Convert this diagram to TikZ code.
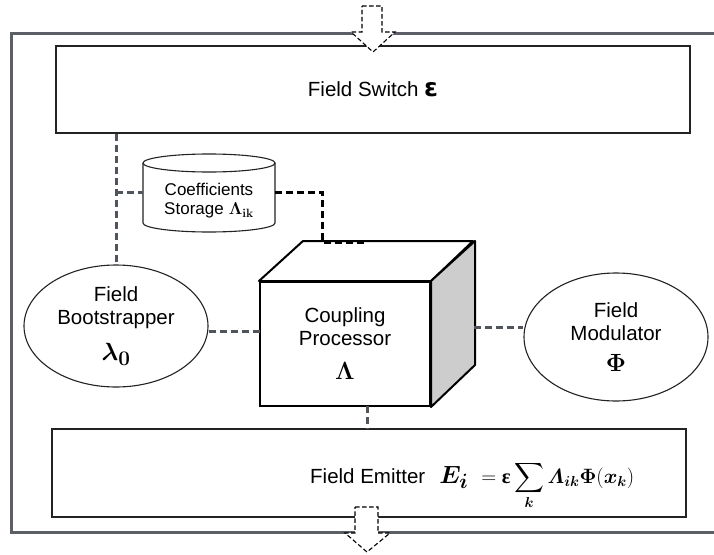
\documentclass[tikz,border=0pt]{standalone}
\usepackage{amsmath}
\usepackage{bm}
\usepackage[no-math]{fontspec}
\setmainfont{Liberation Sans}
\newfontfamily\dejasans{DejaVu Sans}
\newfontfamily\libserif{Liberation Serif}
\usetikzlibrary{shapes.geometric}
\definecolor{framegray}{RGB}{92,96,102}
\definecolor{conngray}{RGB}{80,85,92}
\definecolor{boxdark}{RGB}{35,35,35}
\definecolor{facegray}{RGB}{205,205,205}
\tikzset{
  frameline/.style={draw=framegray, line width=2.2pt},
  blockbox/.style={draw=boxdark, line width=1.7pt, fill=white, inner sep=0pt, rectangle},
  ellbox/.style={ellipse, draw=boxdark, line width=1.1pt, fill=white, inner sep=0pt, align=center,
     font=\fontsize{20.5}{23}\selectfont},
  cubeline/.style={draw=black, line width=2pt, line join=round},
  cylline/.style={draw=boxdark, line width=1.1pt, fill=white},
  conn/.style={draw=conngray, line width=3pt, dash pattern=on 7pt off 4pt},
  connb/.style={draw=black, line width=3pt, dash pattern=on 7pt off 4pt},
  lbl/.style={font=\fontsize{20.5}{23}\selectfont, align=center, inner sep=0pt},
  flowarrow/.style={draw=black, line width=1.1pt, dash pattern=on 4.5pt off 2.5pt, fill=white, line join=miter},
}
\begin{document}
\begin{tikzpicture}[x=1pt,y=-1pt]
\useasboundingbox (0,0) rectangle (714,554);
\fill[white] (0,0) rectangle (714,554);

% outer frame (open on the right)
\draw[frameline] (714,33.5) -- (11.5,33.5) -- (11.5,532.5) -- (714,532.5);

% Field Switch
\node[blockbox, lbl, minimum width=634pt, minimum height=87pt] (switch) at (373,89.5)
  {Field Switch {\dejasans\bfseries\fontsize{25}{25}\selectfont ε}};

% Field Emitter
\node[blockbox, minimum width=634pt, minimum height=88pt] (emitter) at (369,473) {};
\node[lbl, anchor=base west] (emittext) at (310,483)
  {Field Emitter\hspace{14pt}{\fontsize{28}{28}\selectfont$\boldsymbol{E_{i}}$}\hspace{13pt}{\fontsize{20.5}{20.5}\selectfont$\displaystyle =\text{\libserif\bfseries ε}\sum_{\boldsymbol{k}}\boldsymbol{\varLambda}_{\boldsymbol{ik}}\boldsymbol{\Phi}(\boldsymbol{x}_{\boldsymbol{k}})$}};

% Field Bootstrapper
\node[ellbox, minimum width=184pt, minimum height=122pt] (boot) at (116,326)
  {Field\\Bootstrapper\\[13pt]{\fontsize{28}{28}\selectfont$\boldsymbol{\lambda}_{\mathbf{0}}$}};

% Field Modulator
\node[ellbox, minimum width=184pt, minimum height=128pt] (mod) at (616,337)
  {Field\\Modulator\\[8pt]{\fontsize{23}{23}\selectfont$\boldsymbol{\Phi}$}};

% Coefficients Storage (cylinder)
\draw[cylline] (143,163) -- (143,223) arc[start angle=180, end angle=0, x radius=66, y radius=9] -- (275,163);
\draw[cylline] (209,163) ellipse [x radius=66, y radius=9];
\node[lbl, font=\fontsize{17}{19}\selectfont] (cyl) at (209,201)
  {Coefficients\\Storage\hspace{5pt}{\fontsize{17}{17}\selectfont$\mathbf{\Lambda}_{\mathbf{ik}}$}};
\coordinate (cylW) at (143,192);
\coordinate (cylE) at (275,192);

% Coupling Processor (cube)
\node[draw=black, line width=2pt, fill=white, minimum width=170pt, minimum height=124pt,
      inner sep=0pt, lbl] (cube) at (345,344)
  {Coupling\\Processor\\[11pt]{\fontsize{24}{24}\selectfont$\boldsymbol{\Lambda}$}};
\draw[cubeline, fill=white] (cube.north west) -- ++(44,-40) -- ++(170,0) -- (cube.north east) -- cycle;
\draw[cubeline, fill=facegray] (cube.north east) -- ++(44,-40) -- ++(0,124) -- (cube.south east) -- cycle;
\coordinate (cubeback) at (367,242);
\coordinate (cubeR) at (474,327);
\coordinate (cubeBot) at (367,406);
\coordinate (cubeL) at (260,331);

% connectors
\draw[conn] (switch.south -| boot.north) -- (boot.north);
\draw[conn] (boot.north |- cylW) -- (cylW);
\draw[connb] (cylE) -- (322,192) -- (322,242) -- (cubeback);
\draw[conn] (boot.east |- cubeL) -- (cubeL);
\draw[conn] (cubeR) -- (mod.west |- cubeR);
\draw[conn] (cubeBot) -- (cubeBot |- emitter.north);

% flow arrows
\draw[flowarrow] (362,6) -- (382,6) -- (382,32) -- (395,32) -- (373,52) -- (351,32) -- (362,32) -- cycle;
\draw[flowarrow] (355,507) -- (378,507) -- (378,533) -- (390,533) -- (367,552) -- (345,533) -- (355,533) -- cycle;
\end{tikzpicture}
\end{document}
